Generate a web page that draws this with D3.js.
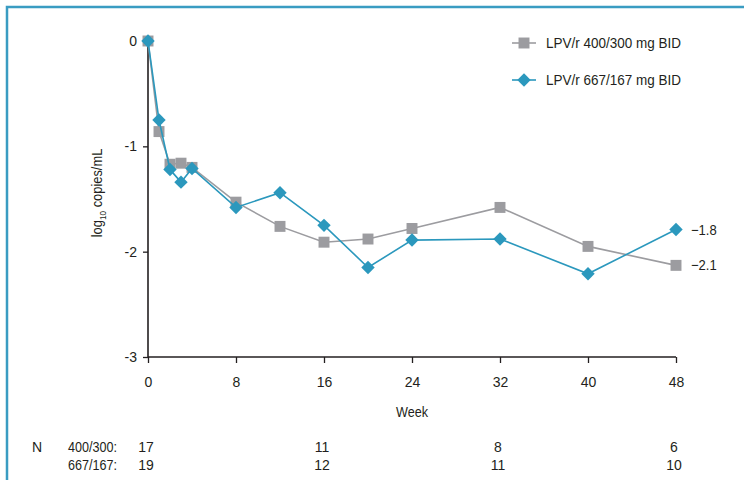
<!DOCTYPE html>
<html>
<head>
<meta charset="utf-8">
<script src="https://cdn.jsdelivr.net/npm/d3@7"></script>
<style>
  body { margin: 0; background: #fff; }
  svg { display: block; font-family: "Liberation Sans Narrow", "Arial Narrow", "Liberation Sans", sans-serif; }
</style>
</head>
<body>
<svg width="744" height="480"></svg>
<script>
var width = 744;
var height = 480;
var margin = { top: 41, bottom: 123, left: 148, right: 68 };

// data
var weeks = [0, 1, 2, 3, 4, 8, 12, 16, 20, 24, 32, 40, 48];
var low = [0, -0.86, -1.17, -1.16, -1.20, -1.53, -1.76, -1.91, -1.88, -1.78, -1.58, -1.95, -2.13];
var high = [0, -0.75, -1.22, -1.34, -1.21, -1.58, -1.44, -1.75, -2.15, -1.89, -1.88, -2.21, -1.79];
var seriesNames = ['LPV/r 400/300 mg BID', 'LPV/r 667/167 mg BID'];
var endLabels = ['\u22122.1', '\u22121.8'];
var xTicks = [0, 8, 16, 24, 32, 40, 48];
var yTicks = [0, -1, -2, -3];
var nWeeks = [0, 16, 32, 48];
var nLow = [17, 11, 8, 6];
var nHigh = [19, 12, 11, 10];
var nGroups = ['400/300:', '667/167:'];

var grey = '#9c9ca0';
var blue = '#2b98bd';
var ink = '#231f20';

var svg = d3.select('svg');

// frame (top and left only, like the cropped figure)
svg.append('path')
  .attr('d', 'M7,' + height + 'V7H' + width)
  .attr('fill', 'none').attr('stroke', '#3a9cc2').attr('stroke-width', 2.5);

// scales ------------------------------------------------------------------
var x = d3.scaleLinear().domain([0, 48]).range([margin.left, width - margin.right]);
var y = d3.scaleLinear().domain([-3, 0]).range([height - margin.bottom, margin.top]);

// axes
var yAxis = d3.axisLeft(y).tickValues(yTicks).tickSize(5).tickPadding(6)
  .tickFormat(d => d === 0 ? '0' : String(d));
var xAxis = d3.axisBottom(x).tickValues(xTicks).tickSize(6).tickPadding(14);

var gy = svg.append('g').attr('transform', 'translate(' + [margin.left, 0] + ')').call(yAxis);
var gx = svg.append('g').attr('transform', 'translate(' + [0, y(-3)] + ')').call(xAxis);

[gx, gy].forEach(g => {
  g.select('.domain').attr('stroke', ink).attr('stroke-width', 1.6)
    .attr('d', g === gx ? 'M' + x(0) + ',0H' + x(48) : 'M0,' + y(-3) + 'V' + y(0));
  g.selectAll('.tick line').attr('stroke', ink).attr('stroke-width', 1.3);
  g.selectAll('.tick text').attr('fill', ink).style('font-size', '14px');
});

// axis titles
svg.append('text')
  .attr('transform', 'translate(' + x(24) + ',417) scale(0.9,1)')
  .attr('text-anchor', 'middle').attr('fill', ink).style('font-size', '14px')
  .text('Week');

var yt = svg.append('text')
  .attr('transform', 'translate(102,' + 193 + ') rotate(-90) scale(0.92,1)')
  .attr('text-anchor', 'middle').attr('fill', ink).style('font-size', '14px');
yt.append('tspan').text('log');
yt.append('tspan').attr('dy', 4).style('font-size', '9px').text('10');
yt.append('tspan').attr('dy', -4).text(' copies/mL');

// lines and markers -------------------------------------------------------
var line = d3.line().x((d, i) => x(weeks[i])).y(d => y(d));
var square = d3.symbol().type(d3.symbolSquare).size(120);
var diamond = d3.symbol().type(d3.symbolSquare).size(90);

function drawSeries(vals, color, sym, rotate) {
  svg.append('path').datum(vals)
    .attr('d', line).attr('fill', 'none')
    .attr('stroke', color).attr('stroke-width', 1.6);
  svg.append('g').selectAll('path').data(vals).enter().append('path')
    .attr('d', sym)
    .attr('transform', (d, i) => 'translate(' + x(weeks[i]) + ',' + y(d) + ')' + (rotate ? ' rotate(45)' : ''))
    .attr('fill', color);
}
drawSeries(low, grey, square, false);
drawSeries(high, blue, diamond, true);

// end labels
svg.selectAll('.endlab').data([low, high]).enter().append('text')
  .attr('class', 'endlab')
  .attr('transform', d => 'translate(' + (x(48) + 15) + ',' + (y(d[d.length - 1]) + 5) + ') scale(0.9,1)')
  .attr('fill', ink).style('font-size', '14.5px')
  .text((d, i) => endLabels[i]);

// legend
var legend = svg.append('g').attr('transform', 'translate(512,43)');
[[grey, square, false], [blue, diamond, true]].forEach((s, i) => {
  var g = legend.append('g').attr('transform', 'translate(0,' + (i * 37) + ')');
  g.append('line').attr('x1', 0).attr('x2', 24).attr('stroke', s[0]).attr('stroke-width', 1.6);
  g.append('path').attr('d', s[1])
    .attr('transform', 'translate(12,0)' + (s[2] ? ' rotate(45)' : ''))
    .attr('fill', s[0]);
  g.append('text').attr('transform', 'translate(34,5) scale(0.9,1)')
    .attr('fill', ink).style('font-size', '15px')
    .text(seriesNames[i]);
});

// numbers at risk
svg.append('text').attr('x', 37).attr('y', 452)
  .attr('text-anchor', 'middle').attr('fill', ink).style('font-size', '14px').text('N');
[nLow, nHigh].forEach((row, r) => {
  var yy = 452 + r * 18;
  svg.append('text').attr('transform', 'translate(117,' + yy + ') scale(0.9,1)')
    .attr('text-anchor', 'end').attr('fill', ink).style('font-size', '14px')
    .text(nGroups[r]);
  svg.append('g').selectAll('text').data(row).enter().append('text')
    .attr('x', (d, i) => x(nWeeks[i]) - 2).attr('y', yy)
    .attr('text-anchor', 'middle').attr('fill', ink).style('font-size', '14px')
    .text(d => d);
});
</script>
</body>
</html>
